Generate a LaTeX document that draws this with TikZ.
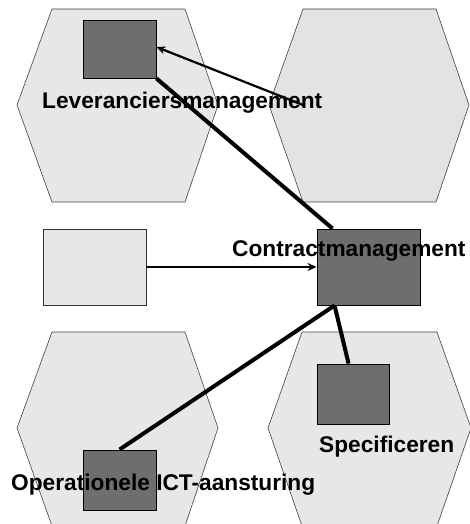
\documentclass[tikz,border=0pt]{standalone}
\usepackage{fontspec}
\setmainfont{Liberation Sans}
\usetikzlibrary{arrows.meta}
\definecolor{hexfill}{HTML}{E7E7E7}
\definecolor{hexfillb}{HTML}{E3E3E3}
\definecolor{darkbox}{HTML}{6E6E6E}
\definecolor{lightbox}{HTML}{E6E6E6}
\definecolor{hexline}{HTML}{404040}
\begin{document}
\begin{tikzpicture}[x=1pt,y=-1pt,
  hexagon/.style={fill=hexfill,draw=hexline,line width=0.6pt},
  darksq/.style={draw=black,fill=darkbox,line width=0.9pt,inner sep=0pt,minimum width=#1},
  lightrect/.style={draw=black!80,fill=lightbox,line width=0.9pt,inner sep=0pt,minimum width=103pt,minimum height=76pt},
  thickline/.style={line width=4pt},
  thinarrow/.style={line width=2.2pt,-{Stealth[length=9pt,width=8pt]}},
  lbl/.style={anchor=base west,inner sep=0pt,font=\bfseries\fontsize{22.7}{26}\selectfont}]
\useasboundingbox (0,0) rectangle (469,524);
% hexagons
\draw[hexagon] (52,9) -- (185,9) -- (218,105) -- (185,202) -- (52,202) -- (17,105) -- cycle;
\draw[hexagon,fill=hexfillb] (303,9) -- (436,9) -- (469,105) -- (436,202) -- (303,202) -- (269,105) -- cycle;
\draw[hexagon] (52,332) -- (185,332) -- (218,428) -- (185,526) -- (52,526) -- (17,428) -- cycle;
\draw[hexagon] (302,332) -- (437,332) -- (471,428) -- (437,526) -- (302,526) -- (268,428) -- cycle;
% boxes
\node[darksq=73pt,minimum height=58pt] (lev) at (119.5,49) {};
\node[lightrect] (lr) at (94.5,267) {};
\node[darksq=103pt,minimum height=76pt] (cm) at (368.5,267) {};
\node[darksq=72pt,minimum height=60pt] (sp) at (353,394) {};
\node[darksq=73pt,minimum height=60pt] (op) at (119.5,480) {};
% connectors
\coordinate (levsrc) at (303,105);
\draw[thickline] (lev.south east) -- ([xshift=16pt]cm.north west);
\draw[thickline] ([xshift=18pt]cm.south west) -- ([xshift=37pt]op.north west);
\draw[thickline] ([xshift=18pt]cm.south west) -- ([xshift=32pt]sp.north west);
\draw[thinarrow] (levsrc) -- ([yshift=2pt]lev.east);
\draw[thinarrow] (lr.east) -- (cm.west);
% labels
\node[lbl] (tlev) at (42,109) {Leveranciersmanagement};
\node[lbl] (tcm) at (232,256) {Contractmanagement};
\node[lbl] (tsp) at (319,452) {Specificeren};
\node[lbl] (top) at (11,490) {Operationele ICT-aansturing};
\end{tikzpicture}
\end{document}
